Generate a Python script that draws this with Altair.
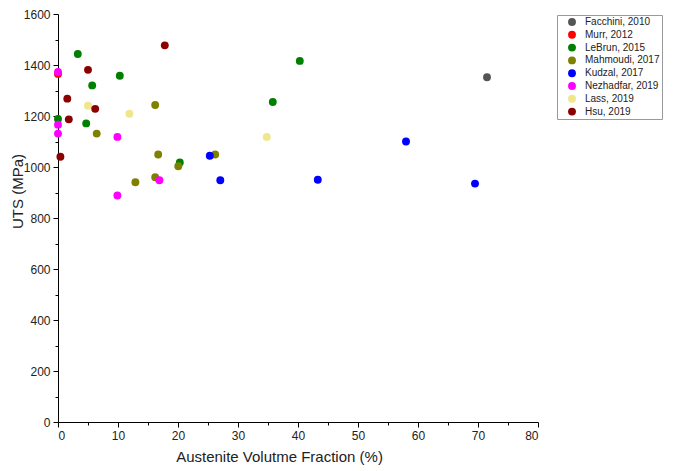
import altair as alt
import pandas as pd

# ---- data ----
series_names = ["Facchini, 2010", "Murr, 2012", "LeBrun, 2015", "Mahmoudi, 2017",
                "Kudzal, 2017", "Nezhadfar, 2019", "Lass, 2019", "Hsu, 2019"]
series_colors = ["#555555", "#FF0000", "#008000", "#808000",
                 "#0000FF", "#FF00FF", "#F0E68C", "#8B0000"]

facchini_x = [71.5]
facchini_y = [1352]
murr_x = [0.0]
murr_y = [1365]
lebrun_x = [3.3, 10.3, 5.7, 0.0, 4.7, 20.3, 40.3, 35.8]
lebrun_y = [1443, 1358, 1320, 1188, 1171, 1018, 1416, 1255]
mahmoudi_x = [16.2, 6.45, 16.7, 26.2, 20.05, 16.2, 12.9]
mahmoudi_y = [1243, 1131, 1049, 1049, 1003, 960, 940]
kudzal_x = [25.3, 27.05, 43.3, 58.0, 69.5]
kudzal_y = [1044, 948, 950, 1100, 935]
nezhadfar_x = [0.0, 0.0, 0.0, 9.9, 9.9, 16.9]
nezhadfar_y = [1373, 1166, 1131, 1118, 888, 948]
lass_x = [5.0, 11.9, 34.8]
lass_y = [1240, 1209, 1118]
hsu_x = [17.8, 5.0, 1.55, 6.2, 1.8, 0.4]
hsu_y = [1477, 1381, 1268, 1228, 1187, 1040]

x_major = list(range(0, 81, 10))
x_minor = list(range(5, 80, 10))
y_major = list(range(0, 1601, 200))
y_minor = list(range(100, 1600, 200))

all_x = [facchini_x, murr_x, lebrun_x, mahmoudi_x, kudzal_x, nezhadfar_x, lass_x, hsu_x]
all_y = [facchini_y, murr_y, lebrun_y, mahmoudi_y, kudzal_y, nezhadfar_y, lass_y, hsu_y]

rows = []
order = 0
for name, xs, ys in zip(series_names, all_x, all_y):
    for xv, yv in zip(xs, ys):
        rows.append({"series": name, "frac": xv, "uts": yv, "ord": order})
        order += 1
df = pd.DataFrame(rows)

FONT = "Liberation Sans"

xscale = alt.Scale(domain=[0, 80], nice=False, zero=False)
yscale = alt.Scale(domain=[0, 1600], nice=False)

points = alt.Chart(df).mark_circle(size=62, opacity=1).encode(
    x=alt.X("frac:Q", scale=xscale,
            axis=alt.Axis(values=x_major, title="Austenite Volutme Fraction (%)",
                          orient="bottom", tickSize=5, labelPadding=3, format="d",
                          titlePadding=8, titleX=221, grid=False)),
    y=alt.Y("uts:Q", scale=yscale,
            axis=alt.Axis(values=y_major, title="UTS (MPa)", orient="left",
                          tickSize=5, labelPadding=3, format="d",
                          titleX=-33, titleBaseline="bottom",
                          titleY=177, grid=False)),
    color=alt.Color("series:N",
                    scale=alt.Scale(domain=series_names, range=series_colors),
                    legend=alt.Legend(title=None, orient="none", legendX=499, legendY=1,
                                      symbolType="circle", symbolSize=62,
                                      labelFontSize=10, labelFont=FONT,
                                      labelColor="#222222",
                                      rowPadding=2.8, padding=2, symbolOffset=8,
                                      labelOffset=8,
                                      strokeColor="#999999", fillColor="white",
                                      labelExpr="datum.label + '\u00a0\u00a0\u00a0\u00a0\u00a0\u00a0'")),
    order=alt.Order("ord:Q"),
)

minor = alt.Chart(df).mark_circle(opacity=0).encode(
    x=alt.X("frac:Q", scale=xscale,
            axis=alt.Axis(values=x_minor, labels=False, domain=False, title=None,
                          orient="bottom", tickSize=3, grid=False)),
    y=alt.Y("uts:Q", scale=yscale,
            axis=alt.Axis(values=y_minor, labels=False, domain=False, title=None,
                          orient="left", tickSize=3, grid=False)),
)

chart = alt.layer(points, minor).resolve_scale(
    x="shared", y="shared"
).resolve_axis(
    x="independent", y="independent"
).properties(
    width=480, height=408,
    autosize=alt.AutoSizeParams(type="none"),
    padding={"left": 50, "top": 6, "right": 139, "bottom": 49},
).configure_view(
    stroke=None
).configure_axis(
    domainColor="black", tickColor="black", domainWidth=1, tickWidth=1,
    labelFont=FONT, titleFont=FONT, labelFontSize=12, titleFontSize=15,
    titleFontWeight="normal", labelColor="#222222", titleColor="#222222",
)

chart.save("out.html", embed_options={"renderer": "svg", "actions": False})
